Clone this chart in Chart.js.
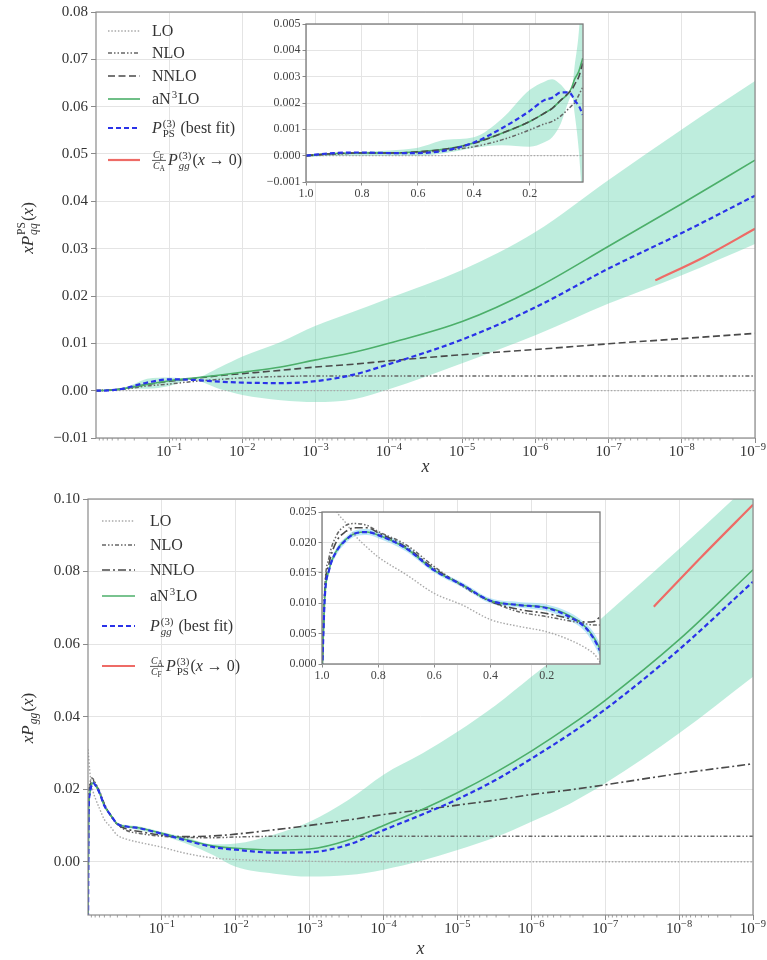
<!DOCTYPE html>
<html>
<head>
<meta charset="utf-8">
<script src="https://cdn.jsdelivr.net/npm/chart.js@4.4.0/dist/chart.umd.min.js"></script>
<style>
  body { margin: 0; background: #fff; }
  #wrap { position: relative; width: 767px; height: 960px; }
  canvas { position: absolute; }
</style>
</head>
<body>
<div id="wrap">
  <canvas id="topMain" width="767" height="480" style="left:0px;top:0px"></canvas>
  <canvas id="topInset" width="340" height="194" style="left:250px;top:14px"></canvas>
  <canvas id="botMain" width="767" height="480" style="left:0px;top:480px"></canvas>
  <canvas id="botInset" width="340" height="190" style="left:270px;top:502px"></canvas>
</div>
<script>
// ---- tick labels ----
const X_TICK_VALS = [1e-1, 1e-2, 1e-3, 1e-4, 1e-5, 1e-6, 1e-7, 1e-8, 1e-9];
const X_TICK_EXP = ['−1', '−2', '−3', '−4', '−5', '−6', '−7', '−8', '−9'];
const TOP_Y_TICKS = [-0.01, 0, 0.01, 0.02, 0.03, 0.04, 0.05, 0.06, 0.07, 0.08];
const TOP_Y_LABELS = ['−0.01', '0.00', '0.01', '0.02', '0.03', '0.04', '0.05', '0.06', '0.07', '0.08'];
const BOT_Y_TICKS = [0, 0.02, 0.04, 0.06, 0.08, 0.10];
const BOT_Y_LABELS = ['0.00', '0.02', '0.04', '0.06', '0.08', '0.10'];
const INSET_X_TICKS = [1.0, 0.8, 0.6, 0.4, 0.2];
const INSET_X_LABELS = ['1.0', '0.8', '0.6', '0.4', '0.2'];
const INS_TOP_Y_TICKS = [-0.001, 0, 0.001, 0.002, 0.003, 0.004, 0.005];
const INS_TOP_Y_LABELS = ['−0.001', '0.000', '0.001', '0.002', '0.003', '0.004', '0.005'];
const INS_BOT_Y_TICKS = [0, 0.005, 0.010, 0.015, 0.020, 0.025];
const INS_BOT_Y_LABELS = ['0.000', '0.005', '0.010', '0.015', '0.020', '0.025'];

// ---- top panel: x P_qq^PS(x) ----
const TOP_X = [1, 0.6, 0.4, 0.3, 0.2, 0.1, 0.05, 0.02, 1e-2, 3e-3, 1e-3, 3e-4, 1e-4, 1e-5, 1e-6, 1e-7, 1e-8, 1e-9];
const TOP_LO = [0, 0, 0, 0, 0, 0, 0, 0, 0, 0, 0, 0, 0, 0, 0, 0, 0, 0];
const TOP_NLO = [0, 0.00012, 0.00034, 0.0006, 0.001, 0.0014, 0.0019, 0.0024, 0.0027, 0.0030, 0.0031, 0.0031, 0.0031, 0.0031, 0.0031, 0.0031, 0.0031, 0.0031];
const TOP_NNLO = [0, 0.00015, 0.00047, 0.00085, 0.0013, 0.0020, 0.0025, 0.0032, 0.0036, 0.0043, 0.0050, 0.0056, 0.0063, 0.0076, 0.0087, 0.0099, 0.0110, 0.0121];
const TOP_AN3LO = [0, 0.00015, 0.00048, 0.00085, 0.0013, 0.0021, 0.0026, 0.0033, 0.0039, 0.0050, 0.0065, 0.0081, 0.0100, 0.0146, 0.0216, 0.0305, 0.0395, 0.0487];
const TOP_FIT = [0, 0.0001, 0.0005, 0.00104, 0.0017, 0.0024, 0.0023, 0.0019, 0.0017, 0.0016, 0.0020, 0.0034, 0.0056, 0.0108, 0.0176, 0.0258, 0.0333, 0.0412];
const TOP_BAND_HI = [0.00005, 0.0003, 0.0007, 0.0014, 0.0025, 0.0028, 0.0025, 0.0050, 0.0072, 0.0103, 0.0137, 0.0167, 0.0195, 0.0255, 0.0335, 0.0445, 0.0552, 0.0654];
const TOP_BAND_LO = [-0.00005, 0, 0.0003, 0.0004, 0.0004, 0.0010, 0.0023, 0.0003, -0.0009, -0.0020, -0.0024, -0.0018, 0.0003, 0.0058, 0.0117, 0.0184, 0.0244, 0.0310];
const TOP_RED_X = [2.3e-8, 5e-9, 1e-9];
const TOP_RED = [0.0233, 0.0282, 0.0342];

// top inset (linear x)
const INS_TOP_X = [1.0, 0.9, 0.8, 0.7, 0.6, 0.5, 0.4, 0.3, 0.2, 0.15, 0.12, 0.09, 0.06, 0.05, 0.04, 0.025, 0.011];
const INS_TOP_LO = [0, 0, 0, 0, 0, 0, 0, 0, 0, 0, 0, 0, 0, 0, 0, 0, 0];
const INS_TOP_NLO = [0, 0.00005, 0.0001, 0.0001, 0.00012, 0.0002, 0.00034, 0.0006, 0.00098, 0.0012, 0.0013, 0.0015, 0.0018, 0.0019, 0.0020, 0.0023, 0.0026];
const INS_TOP_NNLO = [0, 0.00008, 0.0001, 0.0001, 0.00015, 0.00025, 0.00047, 0.00085, 0.0013, 0.0016, 0.0018, 0.0021, 0.0024, 0.0025, 0.0027, 0.0030, 0.0035];
const INS_TOP_AN3LO = [0, 0.00008, 0.0001, 0.0001, 0.00015, 0.00025, 0.00048, 0.00085, 0.0013, 0.0016, 0.0018, 0.0021, 0.0024, 0.0026, 0.0029, 0.0032, 0.0037];
const INS_TOP_FIT = [0, 0.0001, 0.00012, 0.0001, 0.0001, 0.0002, 0.0005, 0.00104, 0.0017, 0.0021, 0.0022, 0.0024, 0.0024, 0.0023, 0.0021, 0.0019, 0.00155];
const INS_TOP_BAND_HI = [0.00005, 0.0001, 0.00015, 0.0002, 0.0003, 0.0006, 0.0007, 0.0014, 0.0025, 0.0028, 0.0029, 0.0027, 0.0024, 0.0025, 0.0034, 0.0047, 0.0070];
const INS_TOP_BAND_LO = [-0.00005, 0, 0, 0, 0, 0.0001, 0.0003, 0.0004, 0.00034, 0.0005, 0.0007, 0.0012, 0.0021, 0.0023, 0.0016, 0.0002, -0.0020];

// ---- bottom panel: x P_gg(x) ----
const BOT_X = [1, 0.98, 0.95, 0.9, 0.85, 0.8, 0.7, 0.6, 0.5, 0.4, 0.3, 0.2, 0.1, 0.05, 0.02, 1e-2, 3e-3, 1e-3, 3e-4, 1e-4, 3e-5, 1e-5, 3e-6, 1e-6, 3e-7, 1e-7, 1e-8, 1e-9];
const BOT_LO = [0.031, 0.029, 0.0253, 0.0215, 0.0192, 0.0176, 0.0147, 0.0116, 0.0097, 0.0073, 0.0062, 0.0053, 0.0040, 0.0024, 0.0010, 0.0006, 0.0002, 0.0001, 0, 0, 0, 0, 0, 0, 0, 0, 0, 0];
const BOT_NLO = [-0.02, 0.016, 0.021, 0.0231, 0.0228, 0.0218, 0.0195, 0.0160, 0.0128, 0.0103, 0.0086, 0.0078, 0.0070, 0.0067, 0.0066, 0.0068, 0.0070, 0.0070, 0.0070, 0.0070, 0.0070, 0.0070, 0.0070, 0.0070, 0.0070, 0.0070, 0.0070, 0.0070];
const BOT_NNLO = [-0.02, 0.015, 0.020, 0.0222, 0.0224, 0.0215, 0.0192, 0.0157, 0.0130, 0.0103, 0.0090, 0.0083, 0.0073, 0.0069, 0.0071, 0.0076, 0.0088, 0.0100, 0.0115, 0.0130, 0.0143, 0.0156, 0.0170, 0.0185, 0.0198, 0.0212, 0.0243, 0.0270];
const BOT_AN3LO = [-0.02, 0.014, 0.0186, 0.0212, 0.0217, 0.0212, 0.0190, 0.0154, 0.0130, 0.0104, 0.0097, 0.0093, 0.0078, 0.0062, 0.0043, 0.0037, 0.0032, 0.0035, 0.0060, 0.0100, 0.0144, 0.0190, 0.0247, 0.0305, 0.0375, 0.0445, 0.0612, 0.0805];
const BOT_FIT = [-0.02, 0.014, 0.0184, 0.0210, 0.0217, 0.0212, 0.0190, 0.0154, 0.0130, 0.0104, 0.0097, 0.0092, 0.0077, 0.0060, 0.0040, 0.0033, 0.0025, 0.0026, 0.0047, 0.0087, 0.0130, 0.0172, 0.0226, 0.0284, 0.0352, 0.0420, 0.0585, 0.0772];
const BOT_BAND_HI = [-0.02, 0.0145, 0.019, 0.0215, 0.0221, 0.0216, 0.0195, 0.0158, 0.0134, 0.0108, 0.0101, 0.0097, 0.0082, 0.0068, 0.0048, 0.0050, 0.0075, 0.0110, 0.0170, 0.0240, 0.0298, 0.0358, 0.0432, 0.0510, 0.0594, 0.0680, 0.0862, 0.1050];
const BOT_BAND_LO = [-0.02, 0.0135, 0.0178, 0.0205, 0.0213, 0.0208, 0.0187, 0.0150, 0.0126, 0.0100, 0.0093, 0.0087, 0.0072, 0.0052, 0.0018, -0.0014, -0.0033, -0.0041, -0.0037, -0.0022, 0.0003, 0.0032, 0.0068, 0.0110, 0.0160, 0.0216, 0.0354, 0.0510];
const BOT_RED_X = [2.2e-8, 5e-9, 1e-9];
const BOT_RED = [0.0703, 0.0840, 0.0984];

// bottom inset (linear x)
const INS_BOT_X = [1.0, 0.99, 0.975, 0.95, 0.915, 0.88, 0.84, 0.8, 0.7, 0.6, 0.5, 0.4, 0.3, 0.2, 0.12, 0.06, 0.03, 0.01];
const INS_BOT_LO = [0.034, 0.031, 0.0285, 0.0253, 0.0232, 0.0210, 0.0192, 0.0176, 0.0147, 0.0116, 0.0097, 0.0073, 0.0062, 0.0053, 0.0040, 0.0026, 0.0016, 0.0003];
const INS_BOT_NLO = [-0.002, 0.0125, 0.0175, 0.0210, 0.0228, 0.0231, 0.0228, 0.0218, 0.0196, 0.0160, 0.0128, 0.0103, 0.0086, 0.0078, 0.0071, 0.0066, 0.0064, 0.0064];
const INS_BOT_NNLO = [-0.002, 0.012, 0.0165, 0.0200, 0.0218, 0.0224, 0.0224, 0.0216, 0.0192, 0.0157, 0.0130, 0.0103, 0.0090, 0.0083, 0.0075, 0.0069, 0.0070, 0.0078];
const INS_BOT_AN3LO = [-0.002, 0.011, 0.0155, 0.0185, 0.0205, 0.0215, 0.0217, 0.0212, 0.0190, 0.0154, 0.0130, 0.0104, 0.0097, 0.0093, 0.0080, 0.0060, 0.0042, 0.0025];
const INS_BOT_FIT = [-0.002, 0.011, 0.0154, 0.0184, 0.0204, 0.0215, 0.0217, 0.0212, 0.0190, 0.0154, 0.0130, 0.0104, 0.0097, 0.0092, 0.0078, 0.0059, 0.0040, 0.0022];
const INS_BOT_BAND_HI = [-0.002, 0.0118, 0.0160, 0.0190, 0.0209, 0.0220, 0.0222, 0.0217, 0.0195, 0.0158, 0.0134, 0.0108, 0.0102, 0.0098, 0.0085, 0.0066, 0.0050, 0.0034];
const INS_BOT_BAND_LO = [-0.002, 0.0102, 0.0148, 0.0178, 0.0199, 0.0210, 0.0212, 0.0207, 0.0185, 0.0150, 0.0126, 0.0100, 0.0093, 0.0087, 0.0072, 0.0052, 0.0030, 0.0012];

// ---- styles ----
const SERIF = "'Liberation Serif','DejaVu Serif',serif";
const STY = {
  lo:      { color: '#a9a9a9', width: 1.4, dash: [1.5, 1.8] },
  nlo:     { color: '#666666', width: 1.5, dash: [4, 2, 1.5, 2, 1.5, 2] },
  nnloTop: { color: '#4a4a4a', width: 1.6, dash: [7, 3.5] },
  nnloBot: { color: '#4a4a4a', width: 1.6, dash: [8, 3, 2, 3] },
  an3lo:   { color: '#4caf6a', width: 1.6, dash: [] },
  fit:     { color: '#2a32e8', width: 2.2, dash: [5, 3] },
  red:     { color: '#ee6b66', width: 2.2, dash: [] }
};
const BAND_MINT = 'rgba(110,215,180,0.45)';
const BAND_CYAN = 'rgba(120,210,240,0.5)';

function pts(xs, ys) { return xs.map((x, i) => ({ x: x, y: ys[i] })); }
function lineDs(label, xs, ys, s, order) {
  return { label, data: pts(xs, ys), borderColor: s.color, borderWidth: s.width, borderDash: s.dash,
    pointRadius: 0, fill: false, cubicInterpolationMode: 'monotone', order };
}
function bandDs(xs, hi, lo, color) {
  return [
    { label: 'band', data: pts(xs, hi), borderWidth: 0, borderColor: 'rgba(0,0,0,0)', backgroundColor: color,
      pointRadius: 0, fill: '+1', cubicInterpolationMode: 'monotone', order: 20 },
    { label: 'band-lo', data: pts(xs, lo), borderWidth: 0, borderColor: 'rgba(0,0,0,0)',
      pointRadius: 0, fill: false, cubicInterpolationMode: 'monotone', order: 20 }
  ];
}

// ---- small rich-text helper (sub/superscripts, fractions) ----
function fnt(size, italic) { return (italic ? 'italic ' : '') + size + 'px ' + SERIF; }
function drawRich(ctx, x, y, parts, size, dry) {
  parts.forEach(p => {
    if (p.t !== undefined) {
      ctx.font = fnt(size, p.i);
      if (!dry) ctx.fillText(p.t, x, y);
      x += ctx.measureText(p.t).width;
    } else if (p.frac) {
      const s = size * 0.62, f = p.frac;
      ctx.font = fnt(s, true);
      const wn = ctx.measureText(f[0]).width, wd = ctx.measureText(f[2]).width;
      ctx.font = fnt(s * 0.75, false);
      const wns = ctx.measureText(f[1]).width, wds = ctx.measureText(f[3]).width;
      const w = Math.max(wn + wns, wd + wds) + 2;
      const mid = y - size * 0.32;
      if (!dry) {
        ctx.font = fnt(s, true);
        ctx.fillText(f[0], x + 1, mid - 2);
        ctx.fillText(f[2], x + 1, mid + s * 0.75 + 1);
        ctx.font = fnt(s * 0.75, false);
        ctx.fillText(f[1], x + 1 + wn, mid);
        ctx.fillText(f[3], x + 1 + wd, mid + s * 0.75 + 3);
        ctx.fillRect(x, mid - 0.4, w, 0.8);
      }
      x += w + 2;
    } else {
      const s = size * 0.68;
      let w = 0;
      if (p.sup) {
        ctx.font = fnt(s, false);
        if (!dry) ctx.fillText(p.sup, x + 1, y - size * 0.42);
        w = Math.max(w, ctx.measureText(p.sup).width);
      }
      if (p.sub) {
        ctx.font = fnt(s, p.subI);
        if (!dry) ctx.fillText(p.sub, x + 1, y + size * 0.24);
        w = Math.max(w, ctx.measureText(p.sub).width);
      }
      x += w + 2;
    }
  });
  return x;
}

// ---- plugins ----
const framePlugin = {
  id: 'frame',
  afterDraw(chart, args, opts) {
    const ca = chart.chartArea, ctx = chart.ctx;
    ctx.save();
    ctx.strokeStyle = opts.color || '#8a8a8a';
    ctx.lineWidth = opts.width || 1.2;
    ctx.strokeRect(ca.left, ca.top, ca.right - ca.left, ca.bottom - ca.top);
    ctx.restore();
  }
};
const insetBgPlugin = {
  id: 'insetBg',
  beforeDraw(chart) {
    const ca = chart.chartArea, ctx = chart.ctx;
    ctx.save();
    ctx.fillStyle = '#fff';
    ctx.fillRect(ca.left, ca.top, ca.right - ca.left, ca.bottom - ca.top);
    ctx.restore();
  }
};
// minor log ticks + "10^-n" labels placed with the x scale
const logAxisPlugin = {
  id: 'logAxis',
  afterDraw(chart) {
    const sx = chart.scales.x, ctx = chart.ctx, b = chart.chartArea.bottom;
    ctx.save();
    ctx.strokeStyle = '#8a8a8a';
    ctx.lineWidth = 0.8;
    ctx.beginPath();
    X_TICK_VALS.forEach(dec => {
      for (let k = 2; k <= 9; k++) {
        const px = sx.getPixelForValue(k * dec);
        ctx.moveTo(px, b); ctx.lineTo(px, b + 2.5);
      }
    });
    ctx.stroke();
    ctx.fillStyle = '#333';
    ctx.textBaseline = 'alphabetic';
    X_TICK_VALS.forEach((v, i) => {
      const px = sx.getPixelForValue(v);
      ctx.font = fnt(15, false);
      const w1 = ctx.measureText('10').width;
      ctx.font = fnt(10.5, false);
      const w2 = ctx.measureText(X_TICK_EXP[i]).width;
      const x0 = Math.min(px - (w1 + w2) / 2, chart.width - 1 - w1 - w2);
      ctx.font = fnt(15, false);
      ctx.fillText('10', x0, b + 18);
      ctx.font = fnt(10.5, false);
      ctx.fillText(X_TICK_EXP[i], x0 + w1, b + 12);
    });
    ctx.restore();
  }
};
const yTitlePlugin = {
  id: 'ytitle',
  afterDraw(chart, args, opts) {
    const ctx = chart.ctx;
    ctx.save();
    ctx.fillStyle = '#333';
    ctx.textBaseline = 'alphabetic';
    ctx.translate(opts.x, opts.y);
    ctx.rotate(-Math.PI / 2);
    const w = drawRich(ctx, 0, 0, opts.parts, opts.size, true);
    drawRich(ctx, -w / 2, opts.size * 0.33, opts.parts, opts.size, false);
    ctx.restore();
  }
};
const richLegendPlugin = {
  id: 'richLegend',
  afterDraw(chart, args, opts) {
    const ctx = chart.ctx;
    ctx.save();
    opts.rows.forEach(r => {
      const s = STY[r.s];
      ctx.strokeStyle = s.color;
      ctx.lineWidth = s.width;
      ctx.setLineDash(s.dash);
      ctx.beginPath();
      ctx.moveTo(opts.x0, r.y); ctx.lineTo(opts.x1, r.y);
      ctx.stroke();
      ctx.setLineDash([]);
      ctx.fillStyle = '#333';
      ctx.textBaseline = 'alphabetic';
      drawRich(ctx, opts.tx, r.y + opts.size * 0.34, r.parts, opts.size, false);
    });
    ctx.restore();
  }
};

// ---- chart builders ----
function mainChart(id, p) {
  return new Chart(document.getElementById(id), {
    type: 'line',
    data: { datasets: p.datasets },
    options: {
      responsive: false,
      animation: false,
      events: [],
      layout: { padding: { left: 0, right: p.padR, top: p.padT, bottom: 0 } },
      plugins: {
        legend: { display: false },
        tooltip: { enabled: false },
        frame: {},
        ytitle: p.ytitle,
        richLegend: p.legend
      },
      scales: {
        x: {
          type: 'logarithmic', reverse: true, min: 1e-9, max: 1,
          afterBuildTicks: s => { s.ticks = X_TICK_VALS.map(v => ({ value: v })); },
          afterFit: s => { s.height = p.xH; s.paddingLeft = 0; s.paddingRight = 0; },
          ticks: { display: false, autoSkip: false, maxRotation: 0 },
          grid: { color: '#e4e4e4', lineWidth: 1, tickLength: 5, tickColor: '#8a8a8a' },
          border: { display: false },
          title: { display: true, text: 'x', color: '#333', padding: { top: 0, bottom: p.xTitlePad },
            font: { family: SERIF, size: 18, style: 'italic' } }
        },
        y: {
          type: 'linear', min: p.yMin, max: p.yMax,
          afterBuildTicks: s => { s.ticks = p.yTicks.map(v => ({ value: v })); },
          afterFit: s => { s.width = p.yW; s.paddingTop = 0; s.paddingBottom = 0; },
          ticks: { color: '#333', padding: 3, font: { family: SERIF, size: 15 },
            callback: (v, i) => p.yLabels[i] },
          grid: { color: '#e4e4e4', lineWidth: 1, tickLength: 5, tickColor: '#8a8a8a' },
          border: { display: false }
        }
      }
    },
    plugins: [framePlugin, logAxisPlugin, yTitlePlugin, richLegendPlugin]
  });
}

function insetChart(id, p) {
  return new Chart(document.getElementById(id), {
    type: 'line',
    data: { datasets: p.datasets },
    options: {
      responsive: false,
      animation: false,
      events: [],
      layout: { padding: { left: 0, right: p.padR, top: p.padT, bottom: 0 } },
      plugins: { legend: { display: false }, tooltip: { enabled: false }, frame: { color: '#7a7a7a', width: 1.3 } },
      scales: {
        x: {
          type: 'linear', reverse: true, min: 0.01, max: 1.0,
          afterBuildTicks: s => { s.ticks = INSET_X_TICKS.map(v => ({ value: v })); },
          afterFit: s => { s.height = p.xH; s.paddingLeft = 0; s.paddingRight = 0; },
          ticks: { autoSkip: false, maxRotation: 0, padding: 1, color: '#444',
            font: { family: SERIF, size: 12 }, callback: (v, i) => INSET_X_LABELS[i] },
          grid: { color: '#e4e4e4', lineWidth: 1, tickLength: 3.5, tickColor: '#8a8a8a' },
          border: { display: false }
        },
        y: {
          type: 'linear', min: p.yMin, max: p.yMax,
          afterBuildTicks: s => { s.ticks = p.yTicks.map(v => ({ value: v })); },
          afterFit: s => { s.width = p.yW; s.paddingTop = 0; s.paddingBottom = 0; },
          ticks: { color: '#444', padding: 2, font: { family: SERIF, size: 12 },
            callback: (v, i) => p.yLabels[i] },
          grid: { color: '#e4e4e4', lineWidth: 1, tickLength: 3.5, tickColor: '#8a8a8a' },
          border: { display: false }
        }
      }
    },
    plugins: [insetBgPlugin, framePlugin]
  });
}

// ---- top panel ----
mainChart('topMain', {
  padR: 12, padT: 12, yW: 96, xH: 42, xTitlePad: 2,
  yMin: -0.01, yMax: 0.08, yTicks: TOP_Y_TICKS, yLabels: TOP_Y_LABELS,
  datasets: [
    lineDs('LO', TOP_X, TOP_LO, STY.lo, 6),
    lineDs('NLO', TOP_X, TOP_NLO, STY.nlo, 5),
    lineDs('NNLO', TOP_X, TOP_NNLO, STY.nnloTop, 4),
    lineDs('aN3LO', TOP_X, TOP_AN3LO, STY.an3lo, 3),
    lineDs('best fit', TOP_X, TOP_FIT, STY.fit, 2),
    lineDs('x->0', TOP_RED_X, TOP_RED, STY.red, 1),
    ...bandDs(TOP_X, TOP_BAND_HI, TOP_BAND_LO, BAND_MINT)
  ],
  ytitle: { x: 27, y: 228, size: 17,
    parts: [{ t: 'xP', i: true }, { sup: 'PS', sub: 'qq', subI: true }, { t: '(' }, { t: 'x', i: true }, { t: ')' }] },
  legend: { x0: 108, x1: 140, tx: 152, size: 16, rows: [
    { y: 31, s: 'lo', parts: [{ t: 'LO' }] },
    { y: 53, s: 'nlo', parts: [{ t: 'NLO' }] },
    { y: 76, s: 'nnloTop', parts: [{ t: 'NNLO' }] },
    { y: 99, s: 'an3lo', parts: [{ t: 'aN' }, { sup: '3' }, { t: 'LO' }] },
    { y: 128, s: 'fit', parts: [{ t: 'P', i: true }, { sup: '(3)', sub: 'PS' }, { t: ' (best fit)' }] },
    { y: 160, s: 'red', parts: [{ frac: ['C', 'F', 'C', 'A'] }, { t: 'P', i: true }, { sup: '(3)', sub: 'gg', subI: true },
      { t: '(' }, { t: 'x', i: true }, { t: ' → 0)' }] }
  ] }
});

insetChart('topInset', {
  padR: 7, padT: 10, yW: 56, xH: 26,
  yMin: -0.001, yMax: 0.005, yTicks: INS_TOP_Y_TICKS, yLabels: INS_TOP_Y_LABELS,
  datasets: [
    lineDs('LO', INS_TOP_X, INS_TOP_LO, STY.lo, 6),
    lineDs('NLO', INS_TOP_X, INS_TOP_NLO, STY.nlo, 5),
    lineDs('NNLO', INS_TOP_X, INS_TOP_NNLO, STY.nnloTop, 3),
    lineDs('aN3LO', INS_TOP_X, INS_TOP_AN3LO, STY.an3lo, 4),
    lineDs('best fit', INS_TOP_X, INS_TOP_FIT, STY.fit, 2),
    ...bandDs(INS_TOP_X, INS_TOP_BAND_HI, INS_TOP_BAND_LO, BAND_MINT)
  ]
});

// ---- bottom panel ----
mainChart('botMain', {
  padR: 14, padT: 19, yW: 88, xH: 45, xTitlePad: 0,
  yMin: -0.0147, yMax: 0.10, yTicks: BOT_Y_TICKS, yLabels: BOT_Y_LABELS,
  datasets: [
    lineDs('LO', BOT_X, BOT_LO, STY.lo, 6),
    lineDs('NLO', BOT_X, BOT_NLO, STY.nlo, 5),
    lineDs('NNLO', BOT_X, BOT_NNLO, STY.nnloBot, 4),
    lineDs('aN3LO', BOT_X, BOT_AN3LO, STY.an3lo, 3),
    lineDs('best fit', BOT_X, BOT_FIT, STY.fit, 2),
    lineDs('x->0', BOT_RED_X, BOT_RED, STY.red, 1),
    ...bandDs(BOT_X, BOT_BAND_HI, BOT_BAND_LO, BAND_MINT)
  ],
  ytitle: { x: 27, y: 238, size: 17,
    parts: [{ t: 'xP', i: true }, { sub: 'gg', subI: true }, { t: '(' }, { t: 'x', i: true }, { t: ')' }] },
  legend: { x0: 102, x1: 135, tx: 150, size: 16, rows: [
    { y: 41, s: 'lo', parts: [{ t: 'LO' }] },
    { y: 65, s: 'nlo', parts: [{ t: 'NLO' }] },
    { y: 90, s: 'nnloBot', parts: [{ t: 'NNLO' }] },
    { y: 116, s: 'an3lo', parts: [{ t: 'aN' }, { sup: '3' }, { t: 'LO' }] },
    { y: 146, s: 'fit', parts: [{ t: 'P', i: true }, { sup: '(3)', sub: 'gg', subI: true }, { t: ' (best fit)' }] },
    { y: 186, s: 'red', parts: [{ frac: ['C', 'A', 'C', 'F'] }, { t: 'P', i: true }, { sup: '(3)', sub: 'PS' },
      { t: '(' }, { t: 'x', i: true }, { t: ' → 0)' }] }
  ] }
});

insetChart('botInset', {
  padR: 10, padT: 10, yW: 52, xH: 28,
  yMin: 0, yMax: 0.025, yTicks: INS_BOT_Y_TICKS, yLabels: INS_BOT_Y_LABELS,
  datasets: [
    lineDs('LO', INS_BOT_X, INS_BOT_LO, STY.lo, 6),
    lineDs('NLO', INS_BOT_X, INS_BOT_NLO, STY.nlo, 5),
    lineDs('NNLO', INS_BOT_X, INS_BOT_NNLO, STY.nnloBot, 4),
    lineDs('aN3LO', INS_BOT_X, INS_BOT_AN3LO, STY.an3lo, 3),
    lineDs('best fit', INS_BOT_X, INS_BOT_FIT, STY.fit, 2),
    ...bandDs(INS_BOT_X, INS_BOT_BAND_HI, INS_BOT_BAND_LO, BAND_CYAN)
  ]
});
</script>
</body>
</html>
